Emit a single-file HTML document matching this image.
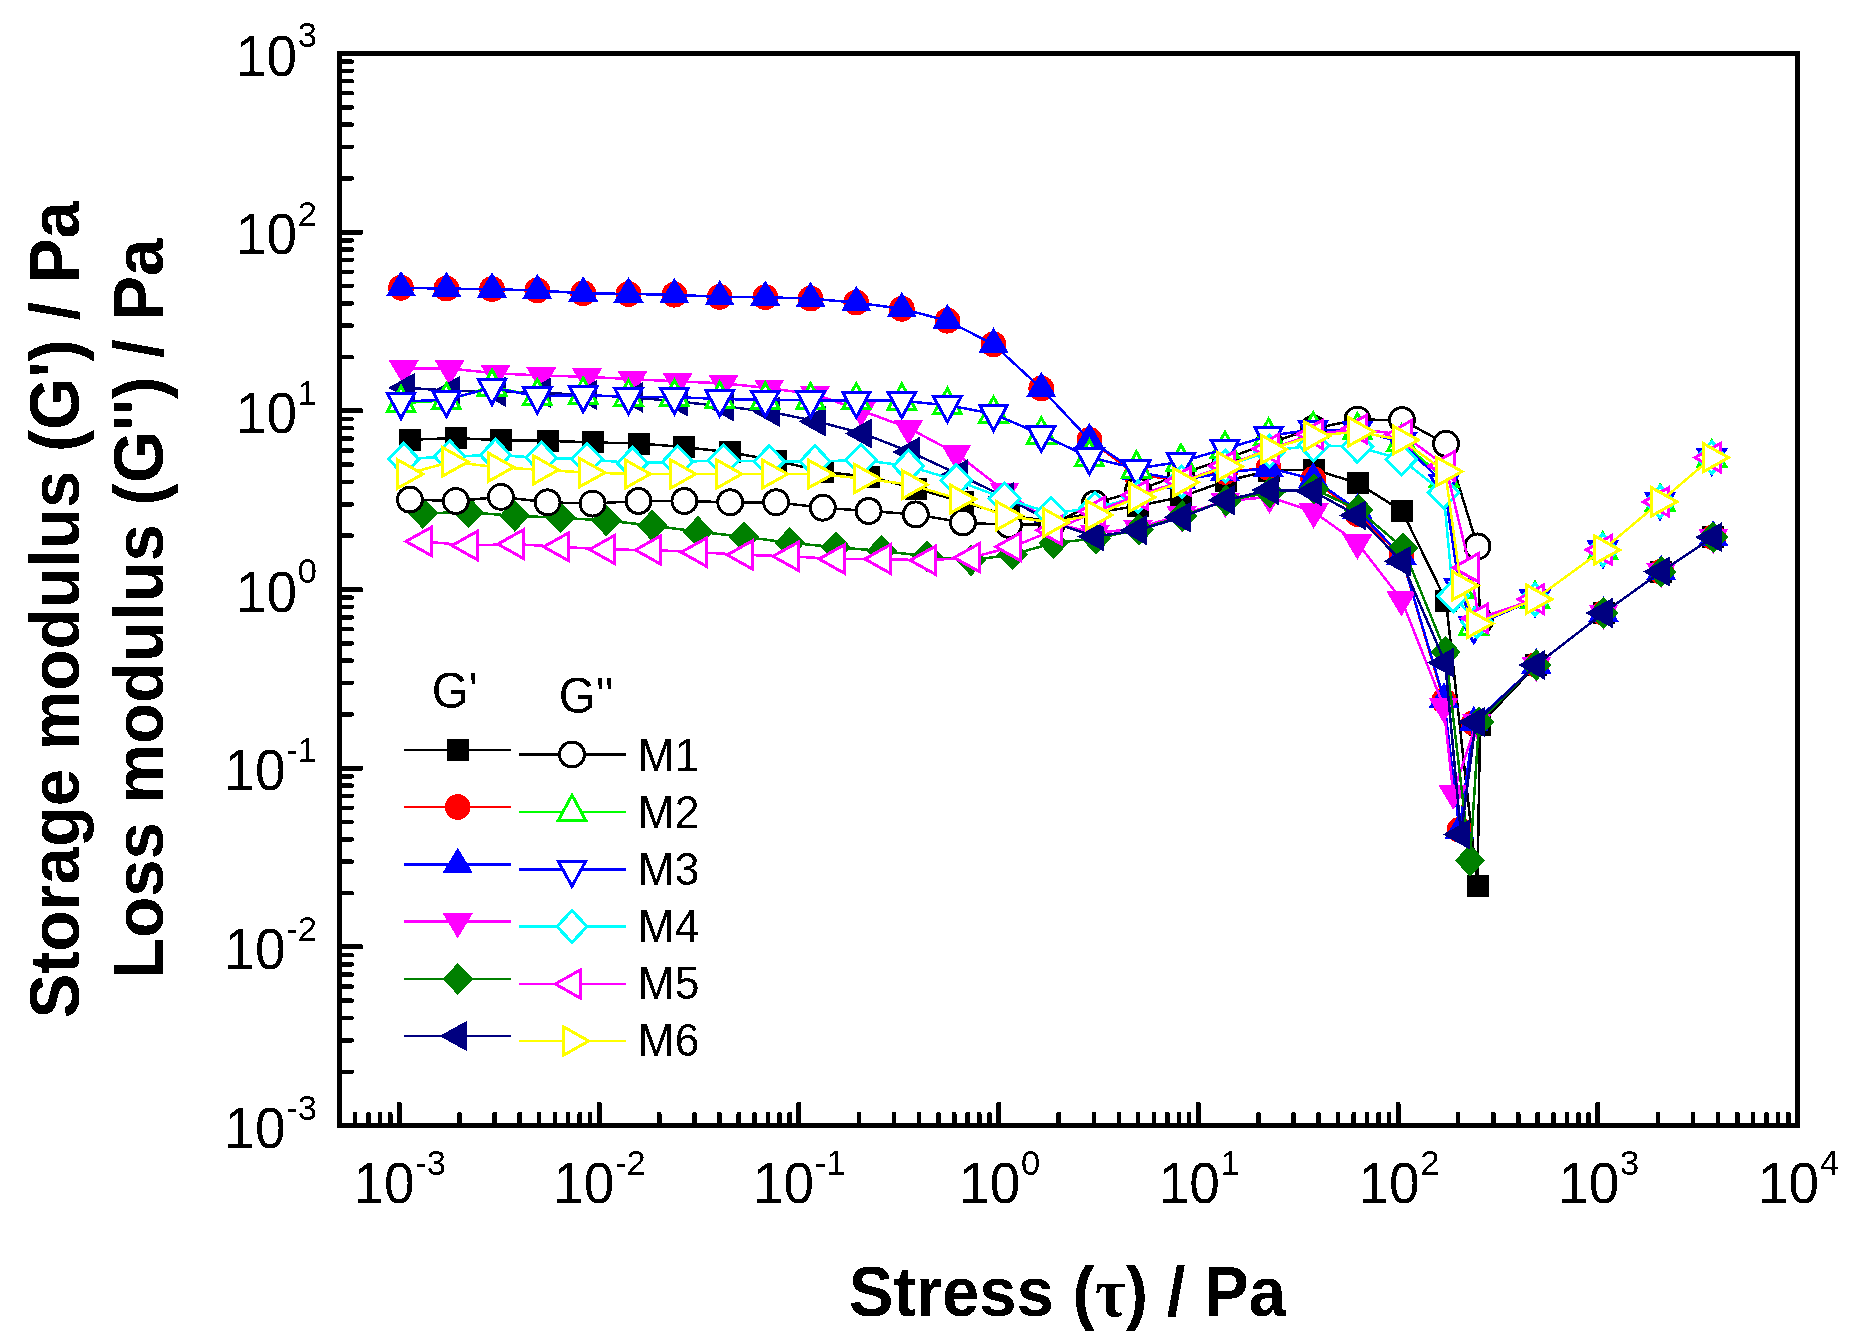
<!DOCTYPE html>
<html lang="en"><head><meta charset="utf-8"><title>Storage and loss modulus vs stress</title>
<style>html,body{margin:0;padding:0;background:#fff;}body{width:1853px;height:1336px;overflow:hidden;}svg{display:block;}text{font-family:"Liberation Sans",Arial,Helvetica,sans-serif;fill:#000;}.b{font-weight:bold;font-size:67.1px;}.t{font-size:55px;}.s{font-size:34.5px;}.l{font-size:44.5px;}.h{font-size:47.5px;}.sym{font-family:"Liberation Serif","DejaVu Serif",serif;font-weight:bold;}</style></head><body>
<svg width="1853" height="1336" viewBox="0 0 1853 1336">
<rect width="1853" height="1336" fill="#fff"/>
<defs><filter id="al" x="0" y="0" width="100%" height="100%" filterUnits="userSpaceOnUse" color-interpolation-filters="sRGB"><feComponentTransfer><feFuncA type="discrete" tableValues="0 1"/></feComponentTransfer></filter></defs>
<g shape-rendering="crispEdges">
<g id="M1p">
<polyline fill="none" stroke="#000000" stroke-width="2.5" stroke-linejoin="round" points="409.9,439.7 455.8,438.1 500.9,440.2 547.6,440.8 592.6,442.4 638.5,443.5 684.4,447 730.2,452.4 776.1,460.5 822.8,471.8 868.6,476.7 915.8,488.5 963,502 1008.9,515.8 1051.8,521 1094.8,512.7 1138,505.9 1181,497 1225.5,481 1269.3,470.7 1313.5,469.5 1357.5,483 1402,510.9 1446,600.6 1477.5,886 1480,724.5 1536.3,665 1603.5,613 1661.2,571.6 1713.2,537.2"/>
<rect x="398.9" y="428.7" width="22" height="22" fill="#000000"/>
<rect x="444.8" y="427.1" width="22" height="22" fill="#000000"/>
<rect x="489.9" y="429.2" width="22" height="22" fill="#000000"/>
<rect x="536.6" y="429.8" width="22" height="22" fill="#000000"/>
<rect x="581.6" y="431.4" width="22" height="22" fill="#000000"/>
<rect x="627.5" y="432.5" width="22" height="22" fill="#000000"/>
<rect x="673.4" y="436" width="22" height="22" fill="#000000"/>
<rect x="719.2" y="441.4" width="22" height="22" fill="#000000"/>
<rect x="765.1" y="449.5" width="22" height="22" fill="#000000"/>
<rect x="811.8" y="460.8" width="22" height="22" fill="#000000"/>
<rect x="857.6" y="465.7" width="22" height="22" fill="#000000"/>
<rect x="904.8" y="477.5" width="22" height="22" fill="#000000"/>
<rect x="952" y="491" width="22" height="22" fill="#000000"/>
<rect x="997.9" y="504.8" width="22" height="22" fill="#000000"/>
<rect x="1040.8" y="510" width="22" height="22" fill="#000000"/>
<rect x="1083.8" y="501.7" width="22" height="22" fill="#000000"/>
<rect x="1127" y="494.9" width="22" height="22" fill="#000000"/>
<rect x="1170" y="486" width="22" height="22" fill="#000000"/>
<rect x="1214.5" y="470" width="22" height="22" fill="#000000"/>
<rect x="1258.3" y="459.7" width="22" height="22" fill="#000000"/>
<rect x="1302.5" y="458.5" width="22" height="22" fill="#000000"/>
<rect x="1346.5" y="472" width="22" height="22" fill="#000000"/>
<rect x="1391" y="499.9" width="22" height="22" fill="#000000"/>
<rect x="1435" y="589.6" width="22" height="22" fill="#000000"/>
<rect x="1466.5" y="875" width="22" height="22" fill="#000000"/>
<rect x="1469" y="713.5" width="22" height="22" fill="#000000"/>
<rect x="1525.3" y="654" width="22" height="22" fill="#000000"/>
<rect x="1592.5" y="602" width="22" height="22" fill="#000000"/>
<rect x="1650.2" y="560.6" width="22" height="22" fill="#000000"/>
<rect x="1702.2" y="526.2" width="22" height="22" fill="#000000"/>
</g>
<g id="M2p">
<polyline fill="none" stroke="#ff0000" stroke-width="2.5" stroke-linejoin="round" points="401,287.8 446.4,288.6 492,289.1 537.3,290.5 583.2,293.2 628.5,294 674.4,294.7 719.7,296.9 765.3,297.2 810.6,298.6 856.3,302.6 901.8,308.8 947.4,320.7 993.5,344.4 1041.3,388.5 1089.4,439.8 1136.5,475 1181,480 1225,472 1268.6,468 1313.2,479 1357.4,514 1401.5,556 1444,701 1459.5,829.8 1473.8,723 1536.3,665 1603.5,613 1661.2,571.6 1713.2,537.2"/>
<circle cx="401" cy="287.8" r="12.9" fill="#ff0000"/>
<circle cx="446.4" cy="288.6" r="12.9" fill="#ff0000"/>
<circle cx="492" cy="289.1" r="12.9" fill="#ff0000"/>
<circle cx="537.3" cy="290.5" r="12.9" fill="#ff0000"/>
<circle cx="583.2" cy="293.2" r="12.9" fill="#ff0000"/>
<circle cx="628.5" cy="294" r="12.9" fill="#ff0000"/>
<circle cx="674.4" cy="294.7" r="12.9" fill="#ff0000"/>
<circle cx="719.7" cy="296.9" r="12.9" fill="#ff0000"/>
<circle cx="765.3" cy="297.2" r="12.9" fill="#ff0000"/>
<circle cx="810.6" cy="298.6" r="12.9" fill="#ff0000"/>
<circle cx="856.3" cy="302.6" r="12.9" fill="#ff0000"/>
<circle cx="901.8" cy="308.8" r="12.9" fill="#ff0000"/>
<circle cx="947.4" cy="320.7" r="12.9" fill="#ff0000"/>
<circle cx="993.5" cy="344.4" r="12.9" fill="#ff0000"/>
<circle cx="1041.3" cy="388.5" r="12.9" fill="#ff0000"/>
<circle cx="1089.4" cy="439.8" r="12.9" fill="#ff0000"/>
<circle cx="1136.5" cy="475" r="12.9" fill="#ff0000"/>
<circle cx="1181" cy="480" r="12.9" fill="#ff0000"/>
<circle cx="1225" cy="472" r="12.9" fill="#ff0000"/>
<circle cx="1268.6" cy="468" r="12.9" fill="#ff0000"/>
<circle cx="1313.2" cy="479" r="12.9" fill="#ff0000"/>
<circle cx="1357.4" cy="514" r="12.9" fill="#ff0000"/>
<circle cx="1401.5" cy="556" r="12.9" fill="#ff0000"/>
<circle cx="1444" cy="701" r="12.9" fill="#ff0000"/>
<circle cx="1459.5" cy="829.8" r="12.9" fill="#ff0000"/>
<circle cx="1473.8" cy="723" r="12.9" fill="#ff0000"/>
<circle cx="1536.3" cy="665" r="12.9" fill="#ff0000"/>
<circle cx="1603.5" cy="613" r="12.9" fill="#ff0000"/>
<circle cx="1661.2" cy="571.6" r="12.9" fill="#ff0000"/>
<circle cx="1713.2" cy="537.2" r="12.9" fill="#ff0000"/>
</g>
<g id="M3p">
<polyline fill="none" stroke="#0000ff" stroke-width="2.5" stroke-linejoin="round" points="401,287.8 446.4,288.6 492,289.1 537.3,290.5 583.2,293.2 628.5,294 674.4,294.7 719.7,296.9 765.3,297.2 810.6,298.6 856.3,302.6 901.8,308.8 947.4,320.7 993.5,344.4 1041.3,388.5 1089.4,439.8 1136.5,471.9 1181,480 1225,472.7 1268.6,468 1313.2,479 1357.4,510 1401.5,556 1444,699 1459.5,830.3 1473.8,722.8 1536.3,665 1603.5,613 1661.2,571.6 1713.2,537.2"/>
<polygon points="401,270.8 385.9,296.3 416.1,296.3" fill="#0000ff"/>
<polygon points="446.4,271.6 431.3,297.1 461.5,297.1" fill="#0000ff"/>
<polygon points="492,272.1 476.9,297.6 507.1,297.6" fill="#0000ff"/>
<polygon points="537.3,273.5 522.2,299 552.4,299" fill="#0000ff"/>
<polygon points="583.2,276.2 568.1,301.7 598.3,301.7" fill="#0000ff"/>
<polygon points="628.5,277 613.4,302.5 643.6,302.5" fill="#0000ff"/>
<polygon points="674.4,277.7 659.3,303.2 689.5,303.2" fill="#0000ff"/>
<polygon points="719.7,279.9 704.6,305.4 734.8,305.4" fill="#0000ff"/>
<polygon points="765.3,280.2 750.2,305.7 780.4,305.7" fill="#0000ff"/>
<polygon points="810.6,281.6 795.5,307.1 825.7,307.1" fill="#0000ff"/>
<polygon points="856.3,285.6 841.2,311.1 871.4,311.1" fill="#0000ff"/>
<polygon points="901.8,291.8 886.7,317.3 916.9,317.3" fill="#0000ff"/>
<polygon points="947.4,303.7 932.3,329.2 962.5,329.2" fill="#0000ff"/>
<polygon points="993.5,327.4 978.4,352.9 1008.6,352.9" fill="#0000ff"/>
<polygon points="1041.3,371.5 1026.2,397 1056.4,397" fill="#0000ff"/>
<polygon points="1089.4,422.8 1074.3,448.3 1104.5,448.3" fill="#0000ff"/>
<polygon points="1136.5,454.9 1121.4,480.4 1151.6,480.4" fill="#0000ff"/>
<polygon points="1181,463 1165.9,488.5 1196.1,488.5" fill="#0000ff"/>
<polygon points="1225,455.7 1209.9,481.2 1240.1,481.2" fill="#0000ff"/>
<polygon points="1268.6,451 1253.5,476.5 1283.7,476.5" fill="#0000ff"/>
<polygon points="1313.2,462 1298.1,487.5 1328.3,487.5" fill="#0000ff"/>
<polygon points="1357.4,493 1342.3,518.5 1372.5,518.5" fill="#0000ff"/>
<polygon points="1401.5,539 1386.4,564.5 1416.6,564.5" fill="#0000ff"/>
<polygon points="1444,682 1428.9,707.5 1459.1,707.5" fill="#0000ff"/>
<polygon points="1459.5,813.3 1444.4,838.8 1474.6,838.8" fill="#0000ff"/>
<polygon points="1473.8,705.8 1458.7,731.3 1488.9,731.3" fill="#0000ff"/>
<polygon points="1536.3,648 1521.2,673.5 1551.4,673.5" fill="#0000ff"/>
<polygon points="1603.5,596 1588.4,621.5 1618.6,621.5" fill="#0000ff"/>
<polygon points="1661.2,554.6 1646.1,580.1 1676.3,580.1" fill="#0000ff"/>
<polygon points="1713.2,520.2 1698.1,545.7 1728.3,545.7" fill="#0000ff"/>
</g>
<g id="M4p">
<polyline fill="none" stroke="#ff00ff" stroke-width="2.5" stroke-linejoin="round" points="403.7,368.5 449.6,368.5 495.5,373.3 541.3,375.5 587,376.8 632.5,379.2 677.6,381.4 723.5,383.3 769.2,388.2 815,394.4 861,410.3 908.5,428 956.3,453.4 1004.5,491 1051,522.5 1095,533.3 1138,528 1181.7,514.8 1225.4,501 1269.5,497 1313.7,511.8 1357.4,542.9 1401.4,599.6 1443.6,706.1 1453.2,793 1476.7,722 1536.3,665 1603.5,613 1661.2,571.6 1713.2,537.2"/>
<polygon points="403.7,385.5 388.6,360 418.8,360" fill="#ff00ff"/>
<polygon points="449.6,385.5 434.5,360 464.7,360" fill="#ff00ff"/>
<polygon points="495.5,390.3 480.4,364.8 510.6,364.8" fill="#ff00ff"/>
<polygon points="541.3,392.5 526.2,367 556.4,367" fill="#ff00ff"/>
<polygon points="587,393.8 571.9,368.3 602.1,368.3" fill="#ff00ff"/>
<polygon points="632.5,396.2 617.4,370.7 647.6,370.7" fill="#ff00ff"/>
<polygon points="677.6,398.4 662.5,372.9 692.7,372.9" fill="#ff00ff"/>
<polygon points="723.5,400.3 708.4,374.8 738.6,374.8" fill="#ff00ff"/>
<polygon points="769.2,405.2 754.1,379.7 784.3,379.7" fill="#ff00ff"/>
<polygon points="815,411.4 799.9,385.9 830.1,385.9" fill="#ff00ff"/>
<polygon points="861,427.3 845.9,401.8 876.1,401.8" fill="#ff00ff"/>
<polygon points="908.5,445 893.4,419.5 923.6,419.5" fill="#ff00ff"/>
<polygon points="956.3,470.4 941.2,444.9 971.4,444.9" fill="#ff00ff"/>
<polygon points="1004.5,508 989.4,482.5 1019.6,482.5" fill="#ff00ff"/>
<polygon points="1051,539.5 1035.9,514 1066.1,514" fill="#ff00ff"/>
<polygon points="1095,550.3 1079.9,524.8 1110.1,524.8" fill="#ff00ff"/>
<polygon points="1138,545 1122.9,519.5 1153.1,519.5" fill="#ff00ff"/>
<polygon points="1181.7,531.8 1166.6,506.3 1196.8,506.3" fill="#ff00ff"/>
<polygon points="1225.4,518 1210.3,492.5 1240.5,492.5" fill="#ff00ff"/>
<polygon points="1269.5,514 1254.4,488.5 1284.6,488.5" fill="#ff00ff"/>
<polygon points="1313.7,528.8 1298.6,503.3 1328.8,503.3" fill="#ff00ff"/>
<polygon points="1357.4,559.9 1342.3,534.4 1372.5,534.4" fill="#ff00ff"/>
<polygon points="1401.4,616.6 1386.3,591.1 1416.5,591.1" fill="#ff00ff"/>
<polygon points="1443.6,723.1 1428.5,697.6 1458.7,697.6" fill="#ff00ff"/>
<polygon points="1453.2,810 1438.1,784.5 1468.3,784.5" fill="#ff00ff"/>
<polygon points="1476.7,739 1461.6,713.5 1491.8,713.5" fill="#ff00ff"/>
<polygon points="1536.3,682 1521.2,656.5 1551.4,656.5" fill="#ff00ff"/>
<polygon points="1603.5,630 1588.4,604.5 1618.6,604.5" fill="#ff00ff"/>
<polygon points="1661.2,588.6 1646.1,563.1 1676.3,563.1" fill="#ff00ff"/>
<polygon points="1713.2,554.2 1698.1,528.7 1728.3,528.7" fill="#ff00ff"/>
</g>
<g id="M5p">
<polyline fill="none" stroke="#008000" stroke-width="2.5" stroke-linejoin="round" points="422.8,513.1 468.7,512.3 514.6,515.8 560.5,517.7 606.3,520.6 652.2,525.5 698,531.7 744,536.8 789.8,542.8 835.8,547.2 881.6,550.9 927,556.3 971,560.3 1012.5,554.5 1053.5,543 1096,538.5 1139,529.5 1182.3,516 1226.2,500.5 1269.8,492.5 1314,489 1358.5,510 1403,547.8 1445.6,652 1470,860.5 1479,721.8 1536.3,665 1603.5,613 1661.2,571.6 1713.2,537.2"/>
<polygon points="422.8,497.3 438.1,513.1 422.8,528.9 407.5,513.1" fill="#008000"/>
<polygon points="468.7,496.5 484,512.3 468.7,528.1 453.4,512.3" fill="#008000"/>
<polygon points="514.6,500 529.9,515.8 514.6,531.6 499.3,515.8" fill="#008000"/>
<polygon points="560.5,501.9 575.8,517.7 560.5,533.5 545.2,517.7" fill="#008000"/>
<polygon points="606.3,504.8 621.6,520.6 606.3,536.4 591,520.6" fill="#008000"/>
<polygon points="652.2,509.7 667.5,525.5 652.2,541.3 636.9,525.5" fill="#008000"/>
<polygon points="698,515.9 713.3,531.7 698,547.5 682.7,531.7" fill="#008000"/>
<polygon points="744,521 759.3,536.8 744,552.6 728.7,536.8" fill="#008000"/>
<polygon points="789.8,527 805.1,542.8 789.8,558.6 774.5,542.8" fill="#008000"/>
<polygon points="835.8,531.4 851.1,547.2 835.8,563 820.5,547.2" fill="#008000"/>
<polygon points="881.6,535.1 896.9,550.9 881.6,566.7 866.3,550.9" fill="#008000"/>
<polygon points="927,540.5 942.3,556.3 927,572.1 911.7,556.3" fill="#008000"/>
<polygon points="971,544.5 986.3,560.3 971,576.1 955.7,560.3" fill="#008000"/>
<polygon points="1012.5,538.7 1027.8,554.5 1012.5,570.3 997.2,554.5" fill="#008000"/>
<polygon points="1053.5,527.2 1068.8,543 1053.5,558.8 1038.2,543" fill="#008000"/>
<polygon points="1096,522.7 1111.3,538.5 1096,554.3 1080.7,538.5" fill="#008000"/>
<polygon points="1139,513.7 1154.3,529.5 1139,545.3 1123.7,529.5" fill="#008000"/>
<polygon points="1182.3,500.2 1197.6,516 1182.3,531.8 1167,516" fill="#008000"/>
<polygon points="1226.2,484.7 1241.5,500.5 1226.2,516.3 1210.9,500.5" fill="#008000"/>
<polygon points="1269.8,476.7 1285.1,492.5 1269.8,508.3 1254.5,492.5" fill="#008000"/>
<polygon points="1314,473.2 1329.3,489 1314,504.8 1298.7,489" fill="#008000"/>
<polygon points="1358.5,494.2 1373.8,510 1358.5,525.8 1343.2,510" fill="#008000"/>
<polygon points="1403,532 1418.3,547.8 1403,563.6 1387.7,547.8" fill="#008000"/>
<polygon points="1445.6,636.2 1460.9,652 1445.6,667.8 1430.3,652" fill="#008000"/>
<polygon points="1470,844.7 1485.3,860.5 1470,876.3 1454.7,860.5" fill="#008000"/>
<polygon points="1479,706 1494.3,721.8 1479,737.6 1463.7,721.8" fill="#008000"/>
<polygon points="1536.3,649.2 1551.6,665 1536.3,680.8 1521,665" fill="#008000"/>
<polygon points="1603.5,597.2 1618.8,613 1603.5,628.8 1588.2,613" fill="#008000"/>
<polygon points="1661.2,555.8 1676.5,571.6 1661.2,587.4 1645.9,571.6" fill="#008000"/>
<polygon points="1713.2,521.4 1728.5,537.2 1713.2,553 1697.9,537.2" fill="#008000"/>
</g>
<g id="M6p">
<polyline fill="none" stroke="#000080" stroke-width="2.5" stroke-linejoin="round" points="406.2,387.8 451.3,390.8 496.9,391.8 541.8,392.8 588.2,395 633.6,397.4 679,401.6 725,406.5 770.7,411.9 816.5,421.3 863,433.5 910.5,452 958.6,474.5 1005,497 1051.5,522 1095.3,536.5 1138,530.2 1181.6,517.3 1225.8,500.2 1269.6,490 1312.8,491.1 1357.2,515.4 1401.5,561.3 1445.2,662.7 1461,834.5 1475.8,722 1536.3,665 1603.5,613 1661.2,571.6 1713.2,537.2"/>
<polygon points="388.07,387.8 415.27,372.6 415.27,403" fill="#000080"/>
<polygon points="433.17,390.8 460.37,375.6 460.37,406" fill="#000080"/>
<polygon points="478.77,391.8 505.97,376.6 505.97,407" fill="#000080"/>
<polygon points="523.67,392.8 550.87,377.6 550.87,408" fill="#000080"/>
<polygon points="570.07,395 597.27,379.8 597.27,410.2" fill="#000080"/>
<polygon points="615.47,397.4 642.67,382.2 642.67,412.6" fill="#000080"/>
<polygon points="660.87,401.6 688.07,386.4 688.07,416.8" fill="#000080"/>
<polygon points="706.87,406.5 734.07,391.3 734.07,421.7" fill="#000080"/>
<polygon points="752.57,411.9 779.77,396.7 779.77,427.1" fill="#000080"/>
<polygon points="798.37,421.3 825.57,406.1 825.57,436.5" fill="#000080"/>
<polygon points="844.87,433.5 872.07,418.3 872.07,448.7" fill="#000080"/>
<polygon points="892.37,452 919.57,436.8 919.57,467.2" fill="#000080"/>
<polygon points="940.47,474.5 967.67,459.3 967.67,489.7" fill="#000080"/>
<polygon points="986.87,497 1014.07,481.8 1014.07,512.2" fill="#000080"/>
<polygon points="1033.37,522 1060.57,506.8 1060.57,537.2" fill="#000080"/>
<polygon points="1077.17,536.5 1104.37,521.3 1104.37,551.7" fill="#000080"/>
<polygon points="1119.87,530.2 1147.07,515 1147.07,545.4" fill="#000080"/>
<polygon points="1163.47,517.3 1190.67,502.1 1190.67,532.5" fill="#000080"/>
<polygon points="1207.67,500.2 1234.87,485 1234.87,515.4" fill="#000080"/>
<polygon points="1251.47,490 1278.67,474.8 1278.67,505.2" fill="#000080"/>
<polygon points="1294.67,491.1 1321.87,475.9 1321.87,506.3" fill="#000080"/>
<polygon points="1339.07,515.4 1366.27,500.2 1366.27,530.6" fill="#000080"/>
<polygon points="1383.37,561.3 1410.57,546.1 1410.57,576.5" fill="#000080"/>
<polygon points="1427.07,662.7 1454.27,647.5 1454.27,677.9" fill="#000080"/>
<polygon points="1442.87,834.5 1470.07,819.3 1470.07,849.7" fill="#000080"/>
<polygon points="1457.67,722 1484.87,706.8 1484.87,737.2" fill="#000080"/>
<polygon points="1518.17,665 1545.37,649.8 1545.37,680.2" fill="#000080"/>
<polygon points="1585.37,613 1612.57,597.8 1612.57,628.2" fill="#000080"/>
<polygon points="1643.07,571.6 1670.27,556.4 1670.27,586.8" fill="#000080"/>
<polygon points="1695.07,537.2 1722.27,522 1722.27,552.4" fill="#000080"/>
</g>
<g id="M1pp">
<polyline fill="none" stroke="#000000" stroke-width="2.5" stroke-linejoin="round" points="409.9,499.6 455.8,501 500.9,496.9 547.6,502.3 592.6,503.6 638.5,501 684.4,501 730.2,502.3 776.1,502.3 822.8,507.7 868.6,511 915.8,514.4 963,522.5 1008.9,525 1051.8,524 1094.8,503.5 1138,490.5 1181,474 1225.5,459.1 1269.3,442.7 1313.5,428.7 1357.5,419.6 1402,420 1446,443.8 1477.5,546.4 1480,620.6 1535,599.2 1602.8,549.9 1660.1,501.8 1711.8,457.6"/>
<circle cx="409.9" cy="499.6" r="12.45" fill="#fff" stroke="#000000" stroke-width="3.0"/>
<circle cx="455.8" cy="501" r="12.45" fill="#fff" stroke="#000000" stroke-width="3.0"/>
<circle cx="500.9" cy="496.9" r="12.45" fill="#fff" stroke="#000000" stroke-width="3.0"/>
<circle cx="547.6" cy="502.3" r="12.45" fill="#fff" stroke="#000000" stroke-width="3.0"/>
<circle cx="592.6" cy="503.6" r="12.45" fill="#fff" stroke="#000000" stroke-width="3.0"/>
<circle cx="638.5" cy="501" r="12.45" fill="#fff" stroke="#000000" stroke-width="3.0"/>
<circle cx="684.4" cy="501" r="12.45" fill="#fff" stroke="#000000" stroke-width="3.0"/>
<circle cx="730.2" cy="502.3" r="12.45" fill="#fff" stroke="#000000" stroke-width="3.0"/>
<circle cx="776.1" cy="502.3" r="12.45" fill="#fff" stroke="#000000" stroke-width="3.0"/>
<circle cx="822.8" cy="507.7" r="12.45" fill="#fff" stroke="#000000" stroke-width="3.0"/>
<circle cx="868.6" cy="511" r="12.45" fill="#fff" stroke="#000000" stroke-width="3.0"/>
<circle cx="915.8" cy="514.4" r="12.45" fill="#fff" stroke="#000000" stroke-width="3.0"/>
<circle cx="963" cy="522.5" r="12.45" fill="#fff" stroke="#000000" stroke-width="3.0"/>
<circle cx="1008.9" cy="525" r="12.45" fill="#fff" stroke="#000000" stroke-width="3.0"/>
<circle cx="1051.8" cy="524" r="12.45" fill="#fff" stroke="#000000" stroke-width="3.0"/>
<circle cx="1094.8" cy="503.5" r="12.45" fill="#fff" stroke="#000000" stroke-width="3.0"/>
<circle cx="1138" cy="490.5" r="12.45" fill="#fff" stroke="#000000" stroke-width="3.0"/>
<circle cx="1181" cy="474" r="12.45" fill="#fff" stroke="#000000" stroke-width="3.0"/>
<circle cx="1225.5" cy="459.1" r="12.45" fill="#fff" stroke="#000000" stroke-width="3.0"/>
<circle cx="1269.3" cy="442.7" r="12.45" fill="#fff" stroke="#000000" stroke-width="3.0"/>
<circle cx="1313.5" cy="428.7" r="12.45" fill="#fff" stroke="#000000" stroke-width="3.0"/>
<circle cx="1357.5" cy="419.6" r="12.45" fill="#fff" stroke="#000000" stroke-width="3.0"/>
<circle cx="1402" cy="420" r="12.45" fill="#fff" stroke="#000000" stroke-width="3.0"/>
<circle cx="1446" cy="443.8" r="12.45" fill="#fff" stroke="#000000" stroke-width="3.0"/>
<circle cx="1477.5" cy="546.4" r="12.45" fill="#fff" stroke="#000000" stroke-width="3.0"/>
<circle cx="1480" cy="620.6" r="12.45" fill="#fff" stroke="#000000" stroke-width="3.0"/>
<circle cx="1535" cy="599.2" r="12.45" fill="#fff" stroke="#000000" stroke-width="3.0"/>
<circle cx="1602.8" cy="549.9" r="12.45" fill="#fff" stroke="#000000" stroke-width="3.0"/>
<circle cx="1660.1" cy="501.8" r="12.45" fill="#fff" stroke="#000000" stroke-width="3.0"/>
<circle cx="1711.8" cy="457.6" r="12.45" fill="#fff" stroke="#000000" stroke-width="3.0"/>
</g>
<g id="M2pp">
<polyline fill="none" stroke="#00ff00" stroke-width="2.5" stroke-linejoin="round" points="401,403.2 446.4,400.3 492,386.8 537.3,396.3 583.2,394.9 628.5,397 674.4,397 719.7,399 765.3,399.8 810.6,400.3 856.3,400.5 901.8,400.8 947.4,405.2 993.5,413.8 1041.3,434.6 1089.4,457.2 1136.5,468.6 1181,461.7 1225,449 1268.6,435.8 1313.2,429.5 1357.4,430.4 1401.5,442 1444,478 1459.5,589.5 1473.8,625.6 1535,599.2 1602.8,549.9 1660.1,501.8 1711.8,457.6"/>
<polygon points="401,386.4 387.25,411.6 414.75,411.6" fill="#fff" stroke="#00ff00" stroke-width="3.0" stroke-linejoin="miter"/>
<polygon points="446.4,383.5 432.65,408.7 460.15,408.7" fill="#fff" stroke="#00ff00" stroke-width="3.0" stroke-linejoin="miter"/>
<polygon points="492,370 478.25,395.2 505.75,395.2" fill="#fff" stroke="#00ff00" stroke-width="3.0" stroke-linejoin="miter"/>
<polygon points="537.3,379.5 523.55,404.7 551.05,404.7" fill="#fff" stroke="#00ff00" stroke-width="3.0" stroke-linejoin="miter"/>
<polygon points="583.2,378.1 569.45,403.3 596.95,403.3" fill="#fff" stroke="#00ff00" stroke-width="3.0" stroke-linejoin="miter"/>
<polygon points="628.5,380.2 614.75,405.4 642.25,405.4" fill="#fff" stroke="#00ff00" stroke-width="3.0" stroke-linejoin="miter"/>
<polygon points="674.4,380.2 660.65,405.4 688.15,405.4" fill="#fff" stroke="#00ff00" stroke-width="3.0" stroke-linejoin="miter"/>
<polygon points="719.7,382.2 705.95,407.4 733.45,407.4" fill="#fff" stroke="#00ff00" stroke-width="3.0" stroke-linejoin="miter"/>
<polygon points="765.3,383 751.55,408.2 779.05,408.2" fill="#fff" stroke="#00ff00" stroke-width="3.0" stroke-linejoin="miter"/>
<polygon points="810.6,383.5 796.85,408.7 824.35,408.7" fill="#fff" stroke="#00ff00" stroke-width="3.0" stroke-linejoin="miter"/>
<polygon points="856.3,383.7 842.55,408.9 870.05,408.9" fill="#fff" stroke="#00ff00" stroke-width="3.0" stroke-linejoin="miter"/>
<polygon points="901.8,384 888.05,409.2 915.55,409.2" fill="#fff" stroke="#00ff00" stroke-width="3.0" stroke-linejoin="miter"/>
<polygon points="947.4,388.4 933.65,413.6 961.15,413.6" fill="#fff" stroke="#00ff00" stroke-width="3.0" stroke-linejoin="miter"/>
<polygon points="993.5,397 979.75,422.2 1007.25,422.2" fill="#fff" stroke="#00ff00" stroke-width="3.0" stroke-linejoin="miter"/>
<polygon points="1041.3,417.8 1027.55,443 1055.05,443" fill="#fff" stroke="#00ff00" stroke-width="3.0" stroke-linejoin="miter"/>
<polygon points="1089.4,440.4 1075.65,465.6 1103.15,465.6" fill="#fff" stroke="#00ff00" stroke-width="3.0" stroke-linejoin="miter"/>
<polygon points="1136.5,451.8 1122.75,477 1150.25,477" fill="#fff" stroke="#00ff00" stroke-width="3.0" stroke-linejoin="miter"/>
<polygon points="1181,444.9 1167.25,470.1 1194.75,470.1" fill="#fff" stroke="#00ff00" stroke-width="3.0" stroke-linejoin="miter"/>
<polygon points="1225,432.2 1211.25,457.4 1238.75,457.4" fill="#fff" stroke="#00ff00" stroke-width="3.0" stroke-linejoin="miter"/>
<polygon points="1268.6,419 1254.85,444.2 1282.35,444.2" fill="#fff" stroke="#00ff00" stroke-width="3.0" stroke-linejoin="miter"/>
<polygon points="1313.2,412.7 1299.45,437.9 1326.95,437.9" fill="#fff" stroke="#00ff00" stroke-width="3.0" stroke-linejoin="miter"/>
<polygon points="1357.4,413.6 1343.65,438.8 1371.15,438.8" fill="#fff" stroke="#00ff00" stroke-width="3.0" stroke-linejoin="miter"/>
<polygon points="1401.5,425.2 1387.75,450.4 1415.25,450.4" fill="#fff" stroke="#00ff00" stroke-width="3.0" stroke-linejoin="miter"/>
<polygon points="1444,461.2 1430.25,486.4 1457.75,486.4" fill="#fff" stroke="#00ff00" stroke-width="3.0" stroke-linejoin="miter"/>
<polygon points="1459.5,572.7 1445.75,597.9 1473.25,597.9" fill="#fff" stroke="#00ff00" stroke-width="3.0" stroke-linejoin="miter"/>
<polygon points="1473.8,608.8 1460.05,634 1487.55,634" fill="#fff" stroke="#00ff00" stroke-width="3.0" stroke-linejoin="miter"/>
<polygon points="1535,582.4 1521.25,607.6 1548.75,607.6" fill="#fff" stroke="#00ff00" stroke-width="3.0" stroke-linejoin="miter"/>
<polygon points="1602.8,533.1 1589.05,558.3 1616.55,558.3" fill="#fff" stroke="#00ff00" stroke-width="3.0" stroke-linejoin="miter"/>
<polygon points="1660.1,485 1646.35,510.2 1673.85,510.2" fill="#fff" stroke="#00ff00" stroke-width="3.0" stroke-linejoin="miter"/>
<polygon points="1711.8,440.8 1698.05,466 1725.55,466" fill="#fff" stroke="#00ff00" stroke-width="3.0" stroke-linejoin="miter"/>
</g>
<g id="M3pp">
<polyline fill="none" stroke="#0000ff" stroke-width="2.5" stroke-linejoin="round" points="401,401.6 446.4,399.7 492,387.6 537.3,396.3 583.2,394.9 628.5,397 674.4,397 719.7,399 765.3,399.8 810.6,400.3 856.3,400.5 901.8,400.8 947.4,405.2 993.5,413.8 1041.3,434.6 1089.4,457.2 1136.5,468.6 1181,461.7 1225,449 1268.6,435.8 1313.2,429.5 1357.4,430.4 1401.5,442 1444,484 1459.5,588.3 1473.8,625.8 1535,599.2 1602.8,549.9 1660.1,501.8 1711.8,457.6"/>
<polygon points="401,418.4 387.25,393.2 414.75,393.2" fill="#fff" stroke="#0000ff" stroke-width="3.0" stroke-linejoin="miter"/>
<polygon points="446.4,416.5 432.65,391.3 460.15,391.3" fill="#fff" stroke="#0000ff" stroke-width="3.0" stroke-linejoin="miter"/>
<polygon points="492,404.4 478.25,379.2 505.75,379.2" fill="#fff" stroke="#0000ff" stroke-width="3.0" stroke-linejoin="miter"/>
<polygon points="537.3,413.1 523.55,387.9 551.05,387.9" fill="#fff" stroke="#0000ff" stroke-width="3.0" stroke-linejoin="miter"/>
<polygon points="583.2,411.7 569.45,386.5 596.95,386.5" fill="#fff" stroke="#0000ff" stroke-width="3.0" stroke-linejoin="miter"/>
<polygon points="628.5,413.8 614.75,388.6 642.25,388.6" fill="#fff" stroke="#0000ff" stroke-width="3.0" stroke-linejoin="miter"/>
<polygon points="674.4,413.8 660.65,388.6 688.15,388.6" fill="#fff" stroke="#0000ff" stroke-width="3.0" stroke-linejoin="miter"/>
<polygon points="719.7,415.8 705.95,390.6 733.45,390.6" fill="#fff" stroke="#0000ff" stroke-width="3.0" stroke-linejoin="miter"/>
<polygon points="765.3,416.6 751.55,391.4 779.05,391.4" fill="#fff" stroke="#0000ff" stroke-width="3.0" stroke-linejoin="miter"/>
<polygon points="810.6,417.1 796.85,391.9 824.35,391.9" fill="#fff" stroke="#0000ff" stroke-width="3.0" stroke-linejoin="miter"/>
<polygon points="856.3,417.3 842.55,392.1 870.05,392.1" fill="#fff" stroke="#0000ff" stroke-width="3.0" stroke-linejoin="miter"/>
<polygon points="901.8,417.6 888.05,392.4 915.55,392.4" fill="#fff" stroke="#0000ff" stroke-width="3.0" stroke-linejoin="miter"/>
<polygon points="947.4,422 933.65,396.8 961.15,396.8" fill="#fff" stroke="#0000ff" stroke-width="3.0" stroke-linejoin="miter"/>
<polygon points="993.5,430.6 979.75,405.4 1007.25,405.4" fill="#fff" stroke="#0000ff" stroke-width="3.0" stroke-linejoin="miter"/>
<polygon points="1041.3,451.4 1027.55,426.2 1055.05,426.2" fill="#fff" stroke="#0000ff" stroke-width="3.0" stroke-linejoin="miter"/>
<polygon points="1089.4,474 1075.65,448.8 1103.15,448.8" fill="#fff" stroke="#0000ff" stroke-width="3.0" stroke-linejoin="miter"/>
<polygon points="1136.5,485.4 1122.75,460.2 1150.25,460.2" fill="#fff" stroke="#0000ff" stroke-width="3.0" stroke-linejoin="miter"/>
<polygon points="1181,478.5 1167.25,453.3 1194.75,453.3" fill="#fff" stroke="#0000ff" stroke-width="3.0" stroke-linejoin="miter"/>
<polygon points="1225,465.8 1211.25,440.6 1238.75,440.6" fill="#fff" stroke="#0000ff" stroke-width="3.0" stroke-linejoin="miter"/>
<polygon points="1268.6,452.6 1254.85,427.4 1282.35,427.4" fill="#fff" stroke="#0000ff" stroke-width="3.0" stroke-linejoin="miter"/>
<polygon points="1313.2,446.3 1299.45,421.1 1326.95,421.1" fill="#fff" stroke="#0000ff" stroke-width="3.0" stroke-linejoin="miter"/>
<polygon points="1357.4,447.2 1343.65,422 1371.15,422" fill="#fff" stroke="#0000ff" stroke-width="3.0" stroke-linejoin="miter"/>
<polygon points="1401.5,458.8 1387.75,433.6 1415.25,433.6" fill="#fff" stroke="#0000ff" stroke-width="3.0" stroke-linejoin="miter"/>
<polygon points="1444,500.8 1430.25,475.6 1457.75,475.6" fill="#fff" stroke="#0000ff" stroke-width="3.0" stroke-linejoin="miter"/>
<polygon points="1459.5,605.1 1445.75,579.9 1473.25,579.9" fill="#fff" stroke="#0000ff" stroke-width="3.0" stroke-linejoin="miter"/>
<polygon points="1473.8,642.6 1460.05,617.4 1487.55,617.4" fill="#fff" stroke="#0000ff" stroke-width="3.0" stroke-linejoin="miter"/>
<polygon points="1535,616 1521.25,590.8 1548.75,590.8" fill="#fff" stroke="#0000ff" stroke-width="3.0" stroke-linejoin="miter"/>
<polygon points="1602.8,566.7 1589.05,541.5 1616.55,541.5" fill="#fff" stroke="#0000ff" stroke-width="3.0" stroke-linejoin="miter"/>
<polygon points="1660.1,518.6 1646.35,493.4 1673.85,493.4" fill="#fff" stroke="#0000ff" stroke-width="3.0" stroke-linejoin="miter"/>
<polygon points="1711.8,474.4 1698.05,449.2 1725.55,449.2" fill="#fff" stroke="#0000ff" stroke-width="3.0" stroke-linejoin="miter"/>
</g>
<g id="M4pp">
<polyline fill="none" stroke="#00ffff" stroke-width="2.5" stroke-linejoin="round" points="403.7,459.1 449.6,456.4 495.5,455.1 541.3,457.8 587,459.1 632.5,463.2 677.6,461.8 723.5,460.5 769.2,461.5 815,461.5 861,460 908.5,466 956.3,480.4 1004.5,498.5 1051,513 1095,508.2 1138,496.9 1181.7,481.7 1225.4,466.1 1269.5,451.2 1313.7,445.2 1357.4,446.6 1401.4,459.3 1443.6,492.6 1453.2,596.1 1476.7,621.7 1535,599.2 1602.8,549.9 1660.1,501.8 1711.8,457.6"/>
<polygon points="403.7,443.3 418.9,459.1 403.7,474.9 388.5,459.1" fill="#fff" stroke="#00ffff" stroke-width="3.0" stroke-linejoin="miter"/>
<polygon points="449.6,440.6 464.8,456.4 449.6,472.2 434.4,456.4" fill="#fff" stroke="#00ffff" stroke-width="3.0" stroke-linejoin="miter"/>
<polygon points="495.5,439.3 510.7,455.1 495.5,470.9 480.3,455.1" fill="#fff" stroke="#00ffff" stroke-width="3.0" stroke-linejoin="miter"/>
<polygon points="541.3,442 556.5,457.8 541.3,473.6 526.1,457.8" fill="#fff" stroke="#00ffff" stroke-width="3.0" stroke-linejoin="miter"/>
<polygon points="587,443.3 602.2,459.1 587,474.9 571.8,459.1" fill="#fff" stroke="#00ffff" stroke-width="3.0" stroke-linejoin="miter"/>
<polygon points="632.5,447.4 647.7,463.2 632.5,479 617.3,463.2" fill="#fff" stroke="#00ffff" stroke-width="3.0" stroke-linejoin="miter"/>
<polygon points="677.6,446 692.8,461.8 677.6,477.6 662.4,461.8" fill="#fff" stroke="#00ffff" stroke-width="3.0" stroke-linejoin="miter"/>
<polygon points="723.5,444.7 738.7,460.5 723.5,476.3 708.3,460.5" fill="#fff" stroke="#00ffff" stroke-width="3.0" stroke-linejoin="miter"/>
<polygon points="769.2,445.7 784.4,461.5 769.2,477.3 754,461.5" fill="#fff" stroke="#00ffff" stroke-width="3.0" stroke-linejoin="miter"/>
<polygon points="815,445.7 830.2,461.5 815,477.3 799.8,461.5" fill="#fff" stroke="#00ffff" stroke-width="3.0" stroke-linejoin="miter"/>
<polygon points="861,444.2 876.2,460 861,475.8 845.8,460" fill="#fff" stroke="#00ffff" stroke-width="3.0" stroke-linejoin="miter"/>
<polygon points="908.5,450.2 923.7,466 908.5,481.8 893.3,466" fill="#fff" stroke="#00ffff" stroke-width="3.0" stroke-linejoin="miter"/>
<polygon points="956.3,464.6 971.5,480.4 956.3,496.2 941.1,480.4" fill="#fff" stroke="#00ffff" stroke-width="3.0" stroke-linejoin="miter"/>
<polygon points="1004.5,482.7 1019.7,498.5 1004.5,514.3 989.3,498.5" fill="#fff" stroke="#00ffff" stroke-width="3.0" stroke-linejoin="miter"/>
<polygon points="1051,497.2 1066.2,513 1051,528.8 1035.8,513" fill="#fff" stroke="#00ffff" stroke-width="3.0" stroke-linejoin="miter"/>
<polygon points="1095,492.4 1110.2,508.2 1095,524 1079.8,508.2" fill="#fff" stroke="#00ffff" stroke-width="3.0" stroke-linejoin="miter"/>
<polygon points="1138,481.1 1153.2,496.9 1138,512.7 1122.8,496.9" fill="#fff" stroke="#00ffff" stroke-width="3.0" stroke-linejoin="miter"/>
<polygon points="1181.7,465.9 1196.9,481.7 1181.7,497.5 1166.5,481.7" fill="#fff" stroke="#00ffff" stroke-width="3.0" stroke-linejoin="miter"/>
<polygon points="1225.4,450.3 1240.6,466.1 1225.4,481.9 1210.2,466.1" fill="#fff" stroke="#00ffff" stroke-width="3.0" stroke-linejoin="miter"/>
<polygon points="1269.5,435.4 1284.7,451.2 1269.5,467 1254.3,451.2" fill="#fff" stroke="#00ffff" stroke-width="3.0" stroke-linejoin="miter"/>
<polygon points="1313.7,429.4 1328.9,445.2 1313.7,461 1298.5,445.2" fill="#fff" stroke="#00ffff" stroke-width="3.0" stroke-linejoin="miter"/>
<polygon points="1357.4,430.8 1372.6,446.6 1357.4,462.4 1342.2,446.6" fill="#fff" stroke="#00ffff" stroke-width="3.0" stroke-linejoin="miter"/>
<polygon points="1401.4,443.5 1416.6,459.3 1401.4,475.1 1386.2,459.3" fill="#fff" stroke="#00ffff" stroke-width="3.0" stroke-linejoin="miter"/>
<polygon points="1443.6,476.8 1458.8,492.6 1443.6,508.4 1428.4,492.6" fill="#fff" stroke="#00ffff" stroke-width="3.0" stroke-linejoin="miter"/>
<polygon points="1453.2,580.3 1468.4,596.1 1453.2,611.9 1438,596.1" fill="#fff" stroke="#00ffff" stroke-width="3.0" stroke-linejoin="miter"/>
<polygon points="1476.7,605.9 1491.9,621.7 1476.7,637.5 1461.5,621.7" fill="#fff" stroke="#00ffff" stroke-width="3.0" stroke-linejoin="miter"/>
<polygon points="1535,583.4 1550.2,599.2 1535,615 1519.8,599.2" fill="#fff" stroke="#00ffff" stroke-width="3.0" stroke-linejoin="miter"/>
<polygon points="1602.8,534.1 1618,549.9 1602.8,565.7 1587.6,549.9" fill="#fff" stroke="#00ffff" stroke-width="3.0" stroke-linejoin="miter"/>
<polygon points="1660.1,486 1675.3,501.8 1660.1,517.6 1644.9,501.8" fill="#fff" stroke="#00ffff" stroke-width="3.0" stroke-linejoin="miter"/>
<polygon points="1711.8,441.8 1727,457.6 1711.8,473.4 1696.6,457.6" fill="#fff" stroke="#00ffff" stroke-width="3.0" stroke-linejoin="miter"/>
</g>
<g id="M5pp">
<polyline fill="none" stroke="#ff00ff" stroke-width="2.5" stroke-linejoin="round" points="422.8,541.4 468.7,545.5 514.6,544.1 560.5,546.8 606.3,549.5 652.2,550 698,552.2 744,554.9 789.8,556.3 835.8,559 881.6,559 927,560.3 971,557.6 1012.5,546.8 1053.5,530.3 1096,511.5 1139,495 1182.3,481.2 1226.2,465.8 1269.8,448.8 1314,434.4 1358.5,429 1403,434.7 1445.6,466 1470,567.7 1479,618.3 1535,599.2 1602.8,549.9 1660.1,501.8 1711.8,457.6"/>
<polygon points="406,541.4 431.2,527.3 431.2,555.5" fill="#fff" stroke="#ff00ff" stroke-width="3.0" stroke-linejoin="miter"/>
<polygon points="451.9,545.5 477.1,531.4 477.1,559.6" fill="#fff" stroke="#ff00ff" stroke-width="3.0" stroke-linejoin="miter"/>
<polygon points="497.8,544.1 523,530 523,558.2" fill="#fff" stroke="#ff00ff" stroke-width="3.0" stroke-linejoin="miter"/>
<polygon points="543.7,546.8 568.9,532.7 568.9,560.9" fill="#fff" stroke="#ff00ff" stroke-width="3.0" stroke-linejoin="miter"/>
<polygon points="589.5,549.5 614.7,535.4 614.7,563.6" fill="#fff" stroke="#ff00ff" stroke-width="3.0" stroke-linejoin="miter"/>
<polygon points="635.4,550 660.6,535.9 660.6,564.1" fill="#fff" stroke="#ff00ff" stroke-width="3.0" stroke-linejoin="miter"/>
<polygon points="681.2,552.2 706.4,538.1 706.4,566.3" fill="#fff" stroke="#ff00ff" stroke-width="3.0" stroke-linejoin="miter"/>
<polygon points="727.2,554.9 752.4,540.8 752.4,569" fill="#fff" stroke="#ff00ff" stroke-width="3.0" stroke-linejoin="miter"/>
<polygon points="773,556.3 798.2,542.2 798.2,570.4" fill="#fff" stroke="#ff00ff" stroke-width="3.0" stroke-linejoin="miter"/>
<polygon points="819,559 844.2,544.9 844.2,573.1" fill="#fff" stroke="#ff00ff" stroke-width="3.0" stroke-linejoin="miter"/>
<polygon points="864.8,559 890,544.9 890,573.1" fill="#fff" stroke="#ff00ff" stroke-width="3.0" stroke-linejoin="miter"/>
<polygon points="910.2,560.3 935.4,546.2 935.4,574.4" fill="#fff" stroke="#ff00ff" stroke-width="3.0" stroke-linejoin="miter"/>
<polygon points="954.2,557.6 979.4,543.5 979.4,571.7" fill="#fff" stroke="#ff00ff" stroke-width="3.0" stroke-linejoin="miter"/>
<polygon points="995.7,546.8 1020.9,532.7 1020.9,560.9" fill="#fff" stroke="#ff00ff" stroke-width="3.0" stroke-linejoin="miter"/>
<polygon points="1036.7,530.3 1061.9,516.2 1061.9,544.4" fill="#fff" stroke="#ff00ff" stroke-width="3.0" stroke-linejoin="miter"/>
<polygon points="1079.2,511.5 1104.4,497.4 1104.4,525.6" fill="#fff" stroke="#ff00ff" stroke-width="3.0" stroke-linejoin="miter"/>
<polygon points="1122.2,495 1147.4,480.9 1147.4,509.1" fill="#fff" stroke="#ff00ff" stroke-width="3.0" stroke-linejoin="miter"/>
<polygon points="1165.5,481.2 1190.7,467.1 1190.7,495.3" fill="#fff" stroke="#ff00ff" stroke-width="3.0" stroke-linejoin="miter"/>
<polygon points="1209.4,465.8 1234.6,451.7 1234.6,479.9" fill="#fff" stroke="#ff00ff" stroke-width="3.0" stroke-linejoin="miter"/>
<polygon points="1253,448.8 1278.2,434.7 1278.2,462.9" fill="#fff" stroke="#ff00ff" stroke-width="3.0" stroke-linejoin="miter"/>
<polygon points="1297.2,434.4 1322.4,420.3 1322.4,448.5" fill="#fff" stroke="#ff00ff" stroke-width="3.0" stroke-linejoin="miter"/>
<polygon points="1341.7,429 1366.9,414.9 1366.9,443.1" fill="#fff" stroke="#ff00ff" stroke-width="3.0" stroke-linejoin="miter"/>
<polygon points="1386.2,434.7 1411.4,420.6 1411.4,448.8" fill="#fff" stroke="#ff00ff" stroke-width="3.0" stroke-linejoin="miter"/>
<polygon points="1428.8,466 1454,451.9 1454,480.1" fill="#fff" stroke="#ff00ff" stroke-width="3.0" stroke-linejoin="miter"/>
<polygon points="1453.2,567.7 1478.4,553.6 1478.4,581.8" fill="#fff" stroke="#ff00ff" stroke-width="3.0" stroke-linejoin="miter"/>
<polygon points="1462.2,618.3 1487.4,604.2 1487.4,632.4" fill="#fff" stroke="#ff00ff" stroke-width="3.0" stroke-linejoin="miter"/>
<polygon points="1518.2,599.2 1543.4,585.1 1543.4,613.3" fill="#fff" stroke="#ff00ff" stroke-width="3.0" stroke-linejoin="miter"/>
<polygon points="1586,549.9 1611.2,535.8 1611.2,564" fill="#fff" stroke="#ff00ff" stroke-width="3.0" stroke-linejoin="miter"/>
<polygon points="1643.3,501.8 1668.5,487.7 1668.5,515.9" fill="#fff" stroke="#ff00ff" stroke-width="3.0" stroke-linejoin="miter"/>
<polygon points="1695,457.6 1720.2,443.5 1720.2,471.7" fill="#fff" stroke="#ff00ff" stroke-width="3.0" stroke-linejoin="miter"/>
</g>
<g id="M6pp">
<polyline fill="none" stroke="#ffff00" stroke-width="2.5" stroke-linejoin="round" points="406.2,474 451.3,461.8 496.9,467.2 541.8,469.9 588.2,472.6 633.6,474 679,474 725,474 770.7,474 816.5,474 863,478.5 910.5,484.6 958.6,499 1005,515.7 1051.5,522.5 1095.3,515 1138,497.2 1181.6,482.2 1225.8,466.4 1269.6,449.3 1312.8,436 1357.2,431.7 1401.5,440 1445.2,471.5 1461,585.7 1475.8,623.5 1535,599.2 1602.8,549.9 1660.1,501.8 1711.8,457.6"/>
<polygon points="423,474 397.8,459.9 397.8,488.1" fill="#fff" stroke="#ffff00" stroke-width="3.0" stroke-linejoin="miter"/>
<polygon points="468.1,461.8 442.9,447.7 442.9,475.9" fill="#fff" stroke="#ffff00" stroke-width="3.0" stroke-linejoin="miter"/>
<polygon points="513.7,467.2 488.5,453.1 488.5,481.3" fill="#fff" stroke="#ffff00" stroke-width="3.0" stroke-linejoin="miter"/>
<polygon points="558.6,469.9 533.4,455.8 533.4,484" fill="#fff" stroke="#ffff00" stroke-width="3.0" stroke-linejoin="miter"/>
<polygon points="605,472.6 579.8,458.5 579.8,486.7" fill="#fff" stroke="#ffff00" stroke-width="3.0" stroke-linejoin="miter"/>
<polygon points="650.4,474 625.2,459.9 625.2,488.1" fill="#fff" stroke="#ffff00" stroke-width="3.0" stroke-linejoin="miter"/>
<polygon points="695.8,474 670.6,459.9 670.6,488.1" fill="#fff" stroke="#ffff00" stroke-width="3.0" stroke-linejoin="miter"/>
<polygon points="741.8,474 716.6,459.9 716.6,488.1" fill="#fff" stroke="#ffff00" stroke-width="3.0" stroke-linejoin="miter"/>
<polygon points="787.5,474 762.3,459.9 762.3,488.1" fill="#fff" stroke="#ffff00" stroke-width="3.0" stroke-linejoin="miter"/>
<polygon points="833.3,474 808.1,459.9 808.1,488.1" fill="#fff" stroke="#ffff00" stroke-width="3.0" stroke-linejoin="miter"/>
<polygon points="879.8,478.5 854.6,464.4 854.6,492.6" fill="#fff" stroke="#ffff00" stroke-width="3.0" stroke-linejoin="miter"/>
<polygon points="927.3,484.6 902.1,470.5 902.1,498.7" fill="#fff" stroke="#ffff00" stroke-width="3.0" stroke-linejoin="miter"/>
<polygon points="975.4,499 950.2,484.9 950.2,513.1" fill="#fff" stroke="#ffff00" stroke-width="3.0" stroke-linejoin="miter"/>
<polygon points="1021.8,515.7 996.6,501.6 996.6,529.8" fill="#fff" stroke="#ffff00" stroke-width="3.0" stroke-linejoin="miter"/>
<polygon points="1068.3,522.5 1043.1,508.4 1043.1,536.6" fill="#fff" stroke="#ffff00" stroke-width="3.0" stroke-linejoin="miter"/>
<polygon points="1112.1,515 1086.9,500.9 1086.9,529.1" fill="#fff" stroke="#ffff00" stroke-width="3.0" stroke-linejoin="miter"/>
<polygon points="1154.8,497.2 1129.6,483.1 1129.6,511.3" fill="#fff" stroke="#ffff00" stroke-width="3.0" stroke-linejoin="miter"/>
<polygon points="1198.4,482.2 1173.2,468.1 1173.2,496.3" fill="#fff" stroke="#ffff00" stroke-width="3.0" stroke-linejoin="miter"/>
<polygon points="1242.6,466.4 1217.4,452.3 1217.4,480.5" fill="#fff" stroke="#ffff00" stroke-width="3.0" stroke-linejoin="miter"/>
<polygon points="1286.4,449.3 1261.2,435.2 1261.2,463.4" fill="#fff" stroke="#ffff00" stroke-width="3.0" stroke-linejoin="miter"/>
<polygon points="1329.6,436 1304.4,421.9 1304.4,450.1" fill="#fff" stroke="#ffff00" stroke-width="3.0" stroke-linejoin="miter"/>
<polygon points="1374,431.7 1348.8,417.6 1348.8,445.8" fill="#fff" stroke="#ffff00" stroke-width="3.0" stroke-linejoin="miter"/>
<polygon points="1418.3,440 1393.1,425.9 1393.1,454.1" fill="#fff" stroke="#ffff00" stroke-width="3.0" stroke-linejoin="miter"/>
<polygon points="1462,471.5 1436.8,457.4 1436.8,485.6" fill="#fff" stroke="#ffff00" stroke-width="3.0" stroke-linejoin="miter"/>
<polygon points="1477.8,585.7 1452.6,571.6 1452.6,599.8" fill="#fff" stroke="#ffff00" stroke-width="3.0" stroke-linejoin="miter"/>
<polygon points="1492.6,623.5 1467.4,609.4 1467.4,637.6" fill="#fff" stroke="#ffff00" stroke-width="3.0" stroke-linejoin="miter"/>
<polygon points="1551.8,599.2 1526.6,585.1 1526.6,613.3" fill="#fff" stroke="#ffff00" stroke-width="3.0" stroke-linejoin="miter"/>
<polygon points="1619.6,549.9 1594.4,535.8 1594.4,564" fill="#fff" stroke="#ffff00" stroke-width="3.0" stroke-linejoin="miter"/>
<polygon points="1676.9,501.8 1651.7,487.7 1651.7,515.9" fill="#fff" stroke="#ffff00" stroke-width="3.0" stroke-linejoin="miter"/>
<polygon points="1728.6,457.6 1703.4,443.5 1703.4,471.7" fill="#fff" stroke="#ffff00" stroke-width="3.0" stroke-linejoin="miter"/>
</g>
</g>
<g shape-rendering="crispEdges" stroke="#000" fill="none" stroke-linecap="round">
<rect x="339.5" y="53.5" width="1458" height="1072.1" stroke-width="5" stroke-linecap="butt"/>
<path stroke-width="5" d="M399.4 1125.6V1104.2M599.13 1125.6V1104.2M798.86 1125.6V1104.2M998.59 1125.6V1104.2M1198.31 1125.6V1104.2M1398.04 1125.6V1104.2M1597.77 1125.6V1104.2"/>
<path stroke-width="4.6" d="M355.09 1125.6V1113.8M368.46 1125.6V1113.8M380.04 1125.6V1113.8M390.26 1125.6V1113.8M459.52 1125.6V1113.8M494.69 1125.6V1113.8M519.65 1125.6V1113.8M539 1125.6V1113.8M554.82 1125.6V1113.8M568.19 1125.6V1113.8M579.77 1125.6V1113.8M589.99 1125.6V1113.8M659.25 1125.6V1113.8M694.42 1125.6V1113.8M719.38 1125.6V1113.8M738.73 1125.6V1113.8M754.55 1125.6V1113.8M767.92 1125.6V1113.8M779.5 1125.6V1113.8M789.72 1125.6V1113.8M858.98 1125.6V1113.8M894.15 1125.6V1113.8M919.11 1125.6V1113.8M938.46 1125.6V1113.8M954.28 1125.6V1113.8M967.65 1125.6V1113.8M979.23 1125.6V1113.8M989.45 1125.6V1113.8M1058.71 1125.6V1113.8M1093.88 1125.6V1113.8M1118.83 1125.6V1113.8M1138.19 1125.6V1113.8M1154 1125.6V1113.8M1167.38 1125.6V1113.8M1178.96 1125.6V1113.8M1189.18 1125.6V1113.8M1258.44 1125.6V1113.8M1293.61 1125.6V1113.8M1318.56 1125.6V1113.8M1337.92 1125.6V1113.8M1353.73 1125.6V1113.8M1367.1 1125.6V1113.8M1378.69 1125.6V1113.8M1388.9 1125.6V1113.8M1458.17 1125.6V1113.8M1493.34 1125.6V1113.8M1518.29 1125.6V1113.8M1537.65 1125.6V1113.8M1553.46 1125.6V1113.8M1566.83 1125.6V1113.8M1578.42 1125.6V1113.8M1588.63 1125.6V1113.8M1657.9 1125.6V1113.8M1693.07 1125.6V1113.8M1718.02 1125.6V1113.8M1737.38 1125.6V1113.8M1753.19 1125.6V1113.8M1766.56 1125.6V1113.8M1778.14 1125.6V1113.8M1788.36 1125.6V1113.8"/>
<path stroke-width="5" d="M339.5 946.92H360.9M339.5 768.23H360.9M339.5 589.55H360.9M339.5 410.87H360.9M339.5 232.18H360.9"/>
<path stroke-width="4.6" d="M339.5 1071.81H351.7M339.5 1040.35H351.7M339.5 1018.02H351.7M339.5 1000.71H351.7M339.5 986.56H351.7M339.5 974.6H351.7M339.5 964.23H351.7M339.5 955.09H351.7M339.5 893.13H351.7M339.5 861.66H351.7M339.5 839.34H351.7M339.5 822.02H351.7M339.5 807.87H351.7M339.5 795.91H351.7M339.5 785.55H351.7M339.5 776.41H351.7M339.5 714.44H351.7M339.5 682.98H351.7M339.5 660.66H351.7M339.5 643.34H351.7M339.5 629.19H351.7M339.5 617.23H351.7M339.5 606.87H351.7M339.5 597.73H351.7M339.5 535.76H351.7M339.5 504.3H351.7M339.5 481.97H351.7M339.5 464.66H351.7M339.5 450.51H351.7M339.5 438.55H351.7M339.5 428.18H351.7M339.5 419.04H351.7M339.5 357.08H351.7M339.5 325.61H351.7M339.5 303.29H351.7M339.5 285.97H351.7M339.5 271.82H351.7M339.5 259.86H351.7M339.5 249.5H351.7M339.5 240.36H351.7M339.5 178.39H351.7M339.5 146.93H351.7M339.5 124.61H351.7M339.5 107.29H351.7M339.5 93.14H351.7M339.5 81.18H351.7M339.5 70.82H351.7M339.5 61.68H351.7"/>
</g>
<g id="alltext" filter="url(#al)">
<g id="xlabels">
<text class="t" transform="translate(399.7 1203.2) scale(1 1.04)" text-anchor="middle">10<tspan class="s" dx="0.7" dy="-27.2">-3</tspan></text>
<text class="t" transform="translate(599.43 1203.2) scale(1 1.04)" text-anchor="middle">10<tspan class="s" dx="0.7" dy="-27.2">-2</tspan></text>
<text class="t" transform="translate(799.16 1203.2) scale(1 1.04)" text-anchor="middle">10<tspan class="s" dx="0.7" dy="-27.2">-1</tspan></text>
<text class="t" transform="translate(999.59 1203.2) scale(1 1.04)" text-anchor="middle">10<tspan class="s" dx="0.7" dy="-27.2">0</tspan></text>
<text class="t" transform="translate(1199.31 1203.2) scale(1 1.04)" text-anchor="middle">10<tspan class="s" dx="0.7" dy="-27.2">1</tspan></text>
<text class="t" transform="translate(1399.04 1203.2) scale(1 1.04)" text-anchor="middle">10<tspan class="s" dx="0.7" dy="-27.2">2</tspan></text>
<text class="t" transform="translate(1598.77 1203.2) scale(1 1.04)" text-anchor="middle">10<tspan class="s" dx="0.7" dy="-27.2">3</tspan></text>
<text class="t" transform="translate(1798.5 1203.2) scale(1 1.04)" text-anchor="middle">10<tspan class="s" dx="0.7" dy="-27.2">4</tspan></text>
</g><g id="ylabels">
<text class="t" transform="translate(316.9 1147.8) scale(1 1.04)" text-anchor="end">10<tspan class="s" dx="0.7" dy="-27.2">-3</tspan></text>
<text class="t" transform="translate(316.9 969.12) scale(1 1.04)" text-anchor="end">10<tspan class="s" dx="0.7" dy="-27.2">-2</tspan></text>
<text class="t" transform="translate(316.9 790.43) scale(1 1.04)" text-anchor="end">10<tspan class="s" dx="0.7" dy="-27.2">-1</tspan></text>
<text class="t" transform="translate(316.9 611.75) scale(1 1.04)" text-anchor="end">10<tspan class="s" dx="0.7" dy="-27.2">0</tspan></text>
<text class="t" transform="translate(316.9 433.07) scale(1 1.04)" text-anchor="end">10<tspan class="s" dx="0.7" dy="-27.2">1</tspan></text>
<text class="t" transform="translate(316.9 254.38) scale(1 1.04)" text-anchor="end">10<tspan class="s" dx="0.7" dy="-27.2">2</tspan></text>
<text class="t" transform="translate(316.9 75.7) scale(1 1.04)" text-anchor="end">10<tspan class="s" dx="0.7" dy="-27.2">3</tspan></text>
</g>
<text class="b" transform="translate(848.8 1315.6) scale(1 1.05)">Stress (<tspan class="sym">τ</tspan>) / Pa</text>
<text class="b" transform="translate(78.7 1018.6) rotate(-90) scale(1 1.05)">Storage modulus (G') / Pa</text>
<text class="b" transform="translate(163 978.8) rotate(-90) scale(1 1.05)">Loss modulus (G'') / Pa</text>
<text class="h" transform="translate(431.7 708.4) scale(1 1.04)">G'</text>
<text class="h" transform="translate(558.8 713) scale(1 1.04)">G''</text>
<text class="l" transform="translate(637.6 770.5) scale(1 1.04)">M1</text>
<text class="l" transform="translate(637.6 828.1) scale(1 1.04)">M2</text>
<text class="l" transform="translate(637.6 884.7) scale(1 1.04)">M3</text>
<text class="l" transform="translate(637.6 942.3) scale(1 1.04)">M4</text>
<text class="l" transform="translate(637.6 999.3) scale(1 1.04)">M5</text>
<text class="l" transform="translate(637.6 1056.3) scale(1 1.04)">M6</text>
</g>
<g id="legend">
<g shape-rendering="crispEdges">
<path d="M403.7 750H511" stroke="#000000" stroke-width="2.5" fill="none"/>
<rect x="446.7" y="739" width="22" height="22" fill="#000000"/>
<path d="M519.2 754.5H626" stroke="#000000" stroke-width="2.5" fill="none"/>
<circle cx="572" cy="754.5" r="12.45" fill="#fff" stroke="#000000" stroke-width="3.0"/>
<path d="M403.7 807H511" stroke="#ff0000" stroke-width="2.5" fill="none"/>
<circle cx="457.7" cy="807" r="12.9" fill="#ff0000"/>
<path d="M519.2 812H626" stroke="#00ff00" stroke-width="2.5" fill="none"/>
<polygon points="572,795.2 558.25,820.4 585.75,820.4" fill="#fff" stroke="#00ff00" stroke-width="3.0" stroke-linejoin="miter"/>
<path d="M403.7 864.5H511" stroke="#0000ff" stroke-width="2.5" fill="none"/>
<polygon points="457.7,847.5 442.6,873 472.8,873" fill="#0000ff"/>
<path d="M519.2 869.5H626" stroke="#0000ff" stroke-width="2.5" fill="none"/>
<polygon points="572,886.3 558.25,861.1 585.75,861.1" fill="#fff" stroke="#0000ff" stroke-width="3.0" stroke-linejoin="miter"/>
<path d="M403.7 921.5H511" stroke="#ff00ff" stroke-width="2.5" fill="none"/>
<polygon points="457.7,938.5 442.6,913 472.8,913" fill="#ff00ff"/>
<path d="M519.2 926.5H626" stroke="#00ffff" stroke-width="2.5" fill="none"/>
<polygon points="572,910.7 587.2,926.5 572,942.3 556.8,926.5" fill="#fff" stroke="#00ffff" stroke-width="3.0" stroke-linejoin="miter"/>
<path d="M403.7 979H511" stroke="#008000" stroke-width="2.5" fill="none"/>
<polygon points="457.7,963.2 473,979 457.7,994.8 442.4,979" fill="#008000"/>
<path d="M519.2 984H626" stroke="#ff00ff" stroke-width="2.5" fill="none"/>
<polygon points="555.2,984 580.4,969.9 580.4,998.1" fill="#fff" stroke="#ff00ff" stroke-width="3.0" stroke-linejoin="miter"/>
<path d="M403.7 1036H511" stroke="#000080" stroke-width="2.5" fill="none"/>
<polygon points="439.57,1036 466.77,1020.8 466.77,1051.2" fill="#000080"/>
<path d="M519.2 1041H626" stroke="#ffff00" stroke-width="2.5" fill="none"/>
<polygon points="588.8,1041 563.6,1026.9 563.6,1055.1" fill="#fff" stroke="#ffff00" stroke-width="3.0" stroke-linejoin="miter"/>
</g>
</g>
</svg></body></html>
